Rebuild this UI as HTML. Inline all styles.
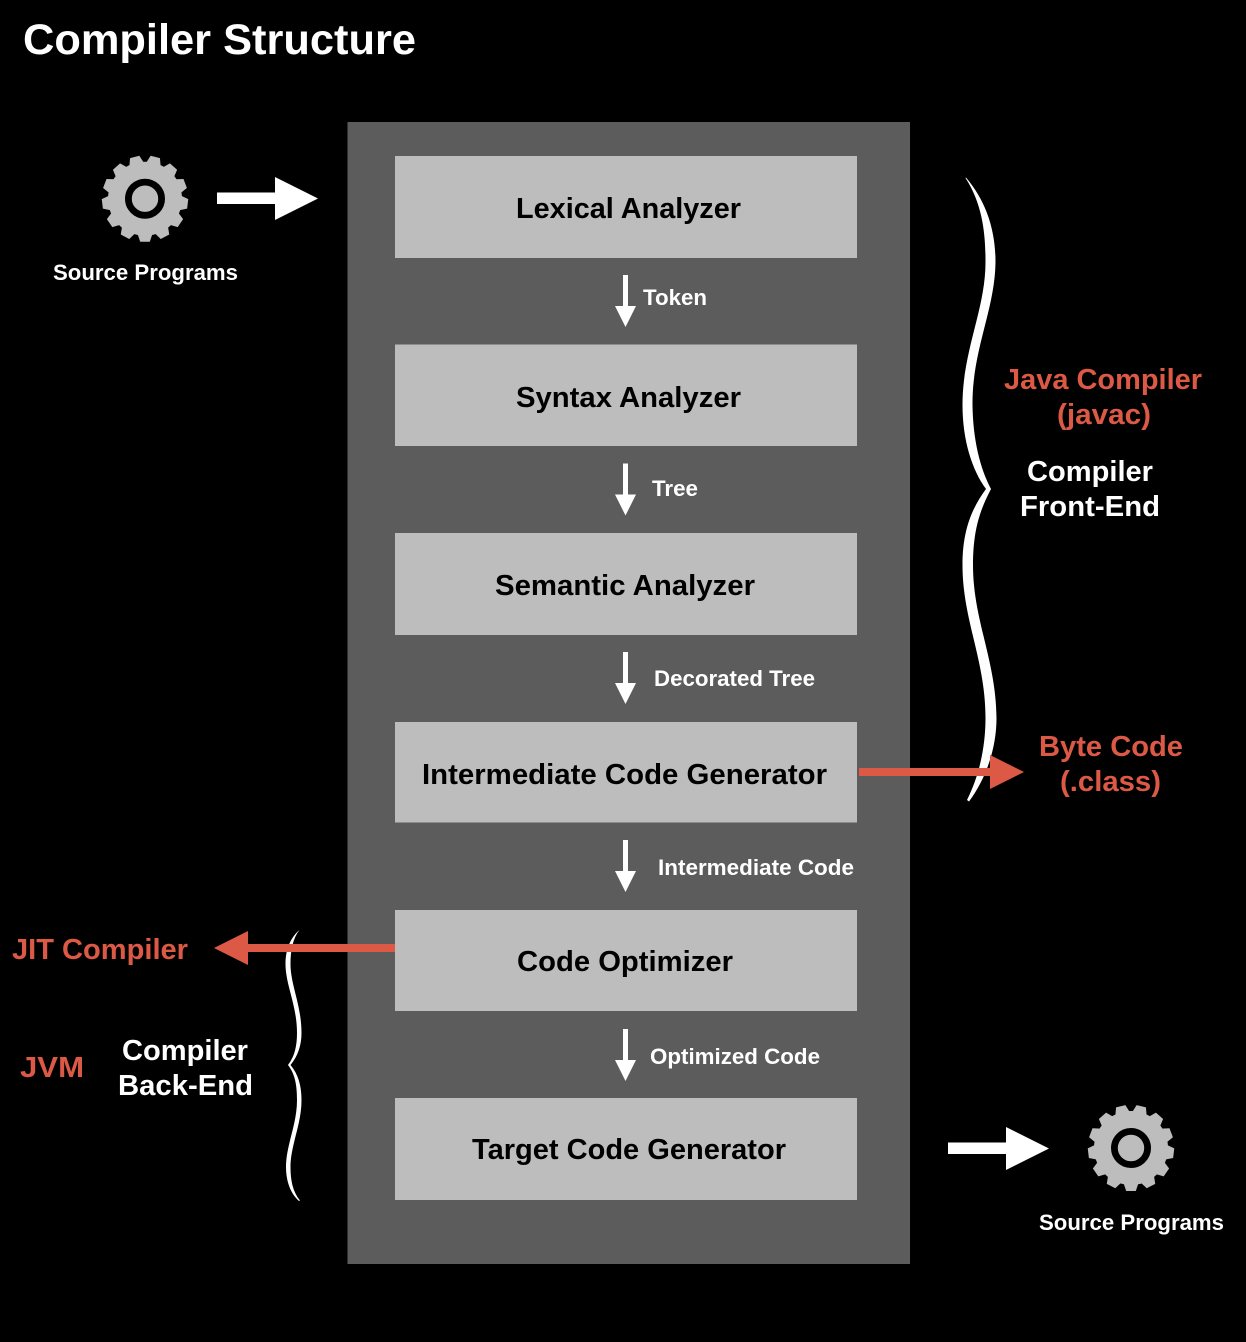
<!DOCTYPE html>
<html>
<head>
<meta charset="utf-8">
<style>
html,body{margin:0;padding:0;background:#000;width:1246px;height:1342px;overflow:hidden}
svg{display:block}
text{font-family:"Liberation Sans",sans-serif;font-weight:bold}
.b{font-size:29px;fill:#000}
.w{font-size:29px;fill:#fff}
.r{font-size:29px;fill:#dc5a45}
.s{font-size:22px;fill:#fff}
</style>
</head>
<body>
<svg width="1246" height="1342" viewBox="0 0 1246 1342" xmlns="http://www.w3.org/2000/svg">
<defs>
<path id="da" d="M623 0H628V31H636L625.5 52L615 31H623Z" fill="#fff"/>
<path id="wa" d="M0 15.500H58V0L101 21.500L58 43V27H0Z" fill="#fff"/>
<path id="tooth" d="M-7.500 35L-4.800 43H4.800L7.500 35Z" fill="#bdbdbd"/>
<g id="gear">
<circle r="37" fill="#bdbdbd"/>
<use href="#tooth"/>
<use href="#tooth" transform="rotate(27.692)"/>
<use href="#tooth" transform="rotate(55.385)"/>
<use href="#tooth" transform="rotate(83.077)"/>
<use href="#tooth" transform="rotate(110.769)"/>
<use href="#tooth" transform="rotate(138.462)"/>
<use href="#tooth" transform="rotate(166.154)"/>
<use href="#tooth" transform="rotate(193.846)"/>
<use href="#tooth" transform="rotate(221.538)"/>
<use href="#tooth" transform="rotate(249.231)"/>
<use href="#tooth" transform="rotate(276.923)"/>
<use href="#tooth" transform="rotate(304.615)"/>
<use href="#tooth" transform="rotate(332.308)"/>
<circle r="16.600" fill="none" stroke="#000" stroke-width="6.800"/>
</g>
</defs>
<rect width="1246" height="1342" fill="#000"/>
<text x="23" y="54" font-size="43" fill="#fff" textLength="393" lengthAdjust="spacingAndGlyphs">Compiler Structure</text>

<rect x="347.500" y="122" width="562.500" height="1142" fill="#5c5c5c"/>
<g fill="#bdbdbd">
<rect x="395" y="156" width="462" height="102"/>
<rect x="395" y="344.500" width="462" height="101.500"/>
<rect x="395" y="533" width="462" height="102"/>
<rect x="395" y="722" width="462" height="100.500"/>
<rect x="395" y="910" width="462" height="101"/>
<rect x="395" y="1098" width="462" height="102"/>
</g>
<text class="b" x="516" y="218" textLength="225" lengthAdjust="spacingAndGlyphs">Lexical Analyzer</text>
<text class="b" x="516" y="407" textLength="225" lengthAdjust="spacingAndGlyphs">Syntax Analyzer</text>
<text class="b" x="495" y="595" textLength="260" lengthAdjust="spacingAndGlyphs">Semantic Analyzer</text>
<text class="b" x="422" y="784" textLength="405" lengthAdjust="spacingAndGlyphs">Intermediate Code Generator</text>
<text class="b" x="517" y="971" textLength="216" lengthAdjust="spacingAndGlyphs">Code Optimizer</text>
<text class="b" x="472" y="1159" textLength="314" lengthAdjust="spacingAndGlyphs">Target Code Generator</text>

<use href="#da" y="275"/>
<use href="#da" y="463.500"/>
<use href="#da" y="652"/>
<use href="#da" y="840"/>
<use href="#da" y="1029"/>
<text class="s" x="643" y="305" textLength="64" lengthAdjust="spacingAndGlyphs">Token</text>
<text class="s" x="652" y="496" textLength="46" lengthAdjust="spacingAndGlyphs">Tree</text>
<text class="s" x="654" y="686" textLength="161" lengthAdjust="spacingAndGlyphs">Decorated Tree</text>
<text class="s" x="658" y="875" textLength="196" lengthAdjust="spacingAndGlyphs">Intermediate Code</text>
<text class="s" x="650" y="1064" textLength="170" lengthAdjust="spacingAndGlyphs">Optimized Code</text>

<use href="#gear" x="145" y="198.700"/>
<use href="#gear" x="1131" y="1148"/>
<use href="#wa" x="217" y="177"/>
<use href="#wa" x="948" y="1127"/>
<text class="s" x="53" y="280" textLength="185" lengthAdjust="spacingAndGlyphs">Source Programs</text>
<text class="s" x="1039" y="1230" textLength="185" lengthAdjust="spacingAndGlyphs">Source Programs</text>

<path d="M966 177.500C985 200 995.500 228 995.500 262C995 310 972 350 972.500 405C973 440 980 468 991 489C980 510 973 530 973 565C973 620 996 660 996.500 718C996.500 750 985 780 969 801.500L967 800C978 778 985.500 750 985.500 718C985.500 660 962.500 620 962.500 565C962.500 530 972 508 986 489C972 470 962.500 440 962.500 405C962.500 350 985.500 310 985.500 262C985.500 235 983 205 965.500 178Z" fill="#fff"/>
<path d="M299.500 930C293 938 290.500 950 290.500 964C290.500 985 301.500 1005 301.500 1033C301.500 1045 298 1056 290.500 1065C298 1074 301.500 1085 301.500 1100C301.500 1125 290.500 1145 290.500 1167C290.500 1181 293 1192 300 1200.500L299 1201C291 1194 286 1182 286 1167C286 1145 297 1125 297 1100C297 1085 295 1074 288 1065C295 1056 297 1045 297 1033C297 1005 285.500 985 285.500 964C285.500 950 290 938 299.500 930Z" fill="#fff"/>

<path d="M859 768H990V755L1024 772L990 789V776H859Z" fill="#dc5a45"/>
<path d="M395 944H248V931L214 948L248 965V952H395Z" fill="#dc5a45"/>

<text class="r" x="1004" y="389" textLength="198" lengthAdjust="spacingAndGlyphs">Java Compiler</text>
<text class="r" x="1057" y="424" textLength="94" lengthAdjust="spacingAndGlyphs">(javac)</text>
<text class="w" x="1027" y="481" textLength="126" lengthAdjust="spacingAndGlyphs">Compiler</text>
<text class="w" x="1020" y="516" textLength="140" lengthAdjust="spacingAndGlyphs">Front-End</text>
<text class="r" x="1039" y="756" textLength="144" lengthAdjust="spacingAndGlyphs">Byte Code</text>
<text class="r" x="1060" y="791" textLength="101" lengthAdjust="spacingAndGlyphs">(.class)</text>
<text class="r" x="12" y="959" textLength="176" lengthAdjust="spacingAndGlyphs">JIT Compiler</text>
<text class="r" x="20" y="1077" textLength="64" lengthAdjust="spacingAndGlyphs">JVM</text>
<text class="w" x="122" y="1060" textLength="126" lengthAdjust="spacingAndGlyphs">Compiler</text>
<text class="w" x="118" y="1095" textLength="135" lengthAdjust="spacingAndGlyphs">Back-End</text>
</svg>
</body>
</html>
